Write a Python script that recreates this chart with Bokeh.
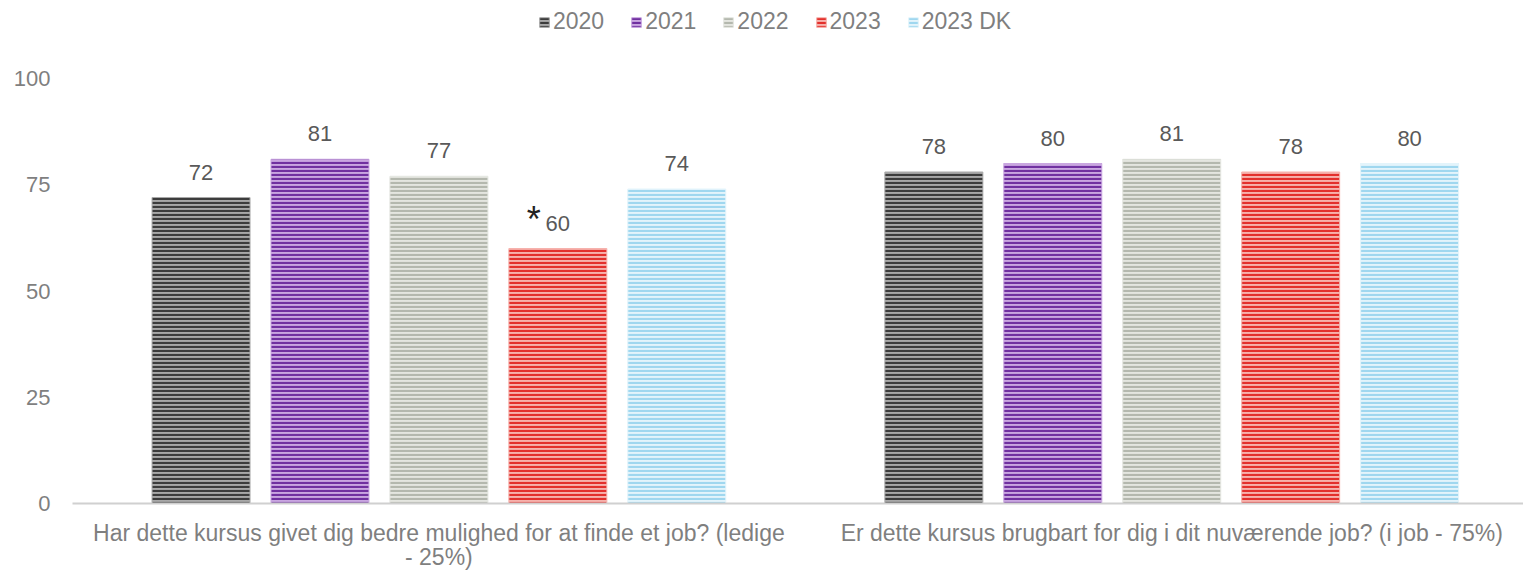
from bokeh.plotting import figure
from bokeh.layouts import column
from bokeh.models import ColumnDataSource, Range1d, FixedTicker, Legend, LegendItem
from bokeh.core.properties import value
from bokeh.embed import file_html
from bokeh.resources import INLINE

categories = [
    "Har dette kursus givet dig bedre mulighed for at finde et job? (ledige\n- 25%)",
    "Er dette kursus brugbart for dig i dit nuværende job? (i job - 75%)",
]
series = ["2020", "2021", "2022", "2023", "2023 DK"]
values = {
    "2020": [72, 78],
    "2021": [81, 80],
    "2022": [77, 81],
    "2023": [60, 78],
    "2023 DK": [74, 80],
}
marks = {"2023": ["*", ""]}
hatch_colors = ["#3c3c3c", "#7030a0", "#b4b8ae", "#e3302c", "#9fd7ef"]
fill_colors = ["#a8a8a8", "#c9a6e0", "#e4e6e0", "#f6b2ad", "#e3f4fb"]

FONT = "Liberation Sans"
FS = "22px"

# legend strip
lf = figure(width=1523, height=40, output_backend="svg", toolbar_location=None,
            x_range=Range1d(0, 1), y_range=Range1d(0, 1),
            min_border_left=0, min_border_right=0, min_border_top=0, min_border_bottom=0)
lf.axis.visible = False
lf.grid.visible = False
lf.outline_line_color = None

p = figure(width=1523, height=533, output_backend="svg", toolbar_location=None,
           x_range=Range1d(0, 1.98), y_range=Range1d(0, 100),
           min_border_left=72, min_border_right=0, min_border_top=38, min_border_bottom=68)
p.outline_line_color = None
p.background_fill_color = "white"
p.xgrid.grid_line_color = None
p.ygrid.grid_line_color = None

step = 0.1623
bw = 0.1337
legend_items = []
for k, s in enumerate(series):
    xs = [i + 0.5 + (k - 2) * step for i in range(len(categories))]
    src = ColumnDataSource(dict(x=xs, top=values[s], lab=[str(v) for v in values[s]],
                                mk=marks.get(s, ["", ""])))
    style = dict(fill_color=fill_colors[k], line_color=fill_colors[k], line_width=1,
                 hatch_pattern="horizontal_line", hatch_color=hatch_colors[k],
                 hatch_scale=4.0, hatch_weight=2.2)
    p.vbar(x="x", top="top", width=bw, bottom=0, source=src, **style)
    p.text(x="x", y="top", text="lab", source=src, text_align="center",
           text_baseline="bottom", y_offset=-18, text_font=value(FONT),
           text_font_size=FS, text_color="#595959")
    p.text(x="x", y="top", text="mk", source=src, text_align="center",
           text_baseline="bottom", x_offset=-24, y_offset=-9, text_font=value(FONT),
           text_font_size="36px", text_color="#222222")
    lr = lf.vbar(x="x", top="top", width=bw, bottom=0, source=src, visible=False, **style)
    legend_items.append(LegendItem(label=s, renderers=[lr]))

legend = Legend(items=legend_items, orientation="horizontal", location=(466, 5),
                label_text_font=FONT, label_text_font_size="23px", label_text_color="#7f7f7f",
                glyph_width=12, glyph_height=12, label_standoff=3, spacing=26,
                border_line_color=None, background_fill_alpha=0, padding=2, margin=0)
lf.add_layout(legend, "center")

p.xaxis.ticker = FixedTicker(ticks=[i + 0.5 for i in range(len(categories))])
p.xaxis.major_label_overrides = {i + 0.5: c for i, c in enumerate(categories)}
p.xaxis.axis_line_color = "#d0d0d0"
p.xaxis.axis_line_width = 2
p.xaxis.major_tick_line_color = None
p.xaxis.minor_tick_line_color = None
p.xaxis.major_label_text_font = FONT
p.xaxis.major_label_text_font_size = "23px"
p.xaxis.major_label_text_color = "#7f7f7f"
p.xaxis.major_label_text_line_height = 0.95
p.xaxis.major_label_standoff = 10

p.yaxis.ticker = FixedTicker(ticks=[0, 25, 50, 75, 100])
p.yaxis.axis_line_color = None
p.yaxis.major_tick_line_color = None
p.yaxis.minor_tick_line_color = None
p.yaxis.major_label_text_font = FONT
p.yaxis.major_label_text_font_size = FS
p.yaxis.major_label_text_color = "#7f7f7f"
p.yaxis.major_label_standoff = 16

layout = column(lf, p, spacing=0)
open("out.html", "w").write(file_html(layout, INLINE))
